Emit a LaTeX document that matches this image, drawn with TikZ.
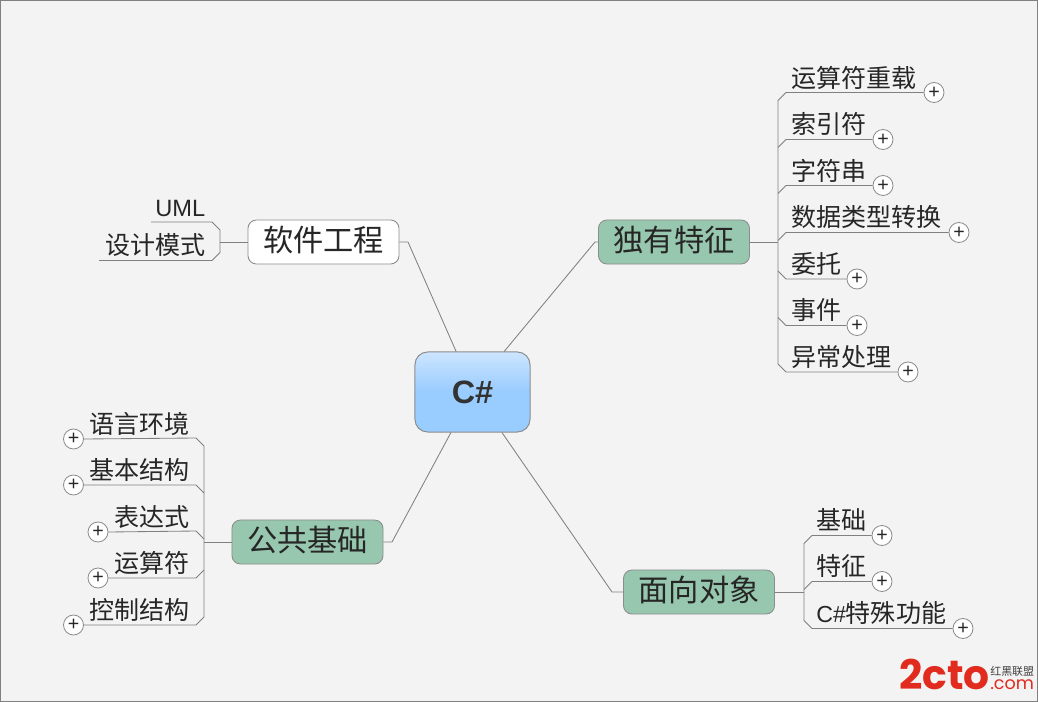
\documentclass[tikz,border=0pt]{standalone}
\usepackage{fontspec}
\usepackage{xcolor}
\setmainfont{Liberation Sans}
\newfontfamily\cjk{Noto Sans CJK SC}
\newfontfamily\logofont{Poppins}
\usetikzlibrary{positioning}
\definecolor{rootgreen}{HTML}{97C7AE}
\definecolor{linegray}{HTML}{808080}
\definecolor{bordergray}{HTML}{8C8C8C}
\definecolor{pagegray}{HTML}{F3F3F3}
\definecolor{logored}{HTML}{E22B1F}
\definecolor{centretop}{HTML}{CCE5FF}
\definecolor{centrelow}{HTML}{99CCFF}

\begin{document}
\begin{tikzpicture}[
    x=0.025cm, y=-0.025cm,
    every node/.style={inner sep=0pt, text=black!85},
    main/.style={draw=bordergray, line width=0.6pt, rounded corners=6pt, fill=rootgreen,
      minimum width=3.775cm, minimum height=1.1cm, text height=17pt, text depth=3.6pt,
      font=\cjk\fontsize{21.5}{24}\selectfont},
    mainw/.style={main, fill=white},
    leafr/.style={anchor=west, font=\cjk\fontsize{17.8}{20}\selectfont},
    leafl/.style={anchor=east, font=\cjk\fontsize{17.8}{20}\selectfont},
    plusnode/.style={circle, draw=bordergray, line width=0.6pt, fill=white, minimum size=0.5cm,
      font=\fontsize{14}{14}\selectfont},
    link/.style={draw=linegray, line width=0.6pt},
  ]
    \useasboundingbox (0,0) rectangle (1038,702);
    \fill[pagegray, draw=linegray, line width=1pt] (0,0) rectangle (1038,702);

    % --- centre ---
    \node[draw=bordergray, line width=0.7pt, rounded corners=9pt, minimum width=2.875cm, minimum height=2cm,
      top color=centretop, bottom color=centrelow, middle color=centrelow,
      font=\bfseries\fontsize{23}{26}\selectfont, text=black!80] (csharp) at (472.5,392) {C\#};

    % --- main branches ---
    \node[mainw] (soft) at (323.5,242) {软件工程};
    \node[main] (unique) at (674,242) {独有特征};
    \node[main] (common) at (307.5,542) {公共基础};
    \node[main] (oop) at (699,592) {面向对象};

    \draw[link] (csharp.112) -- (408,242) -- (soft.east);
    \draw[link] (csharp.52) -- (595,242) -- (unique.west);
    \draw[link] (csharp.242) -- (392,542) -- (common.east);
    \draw[link] (csharp.306) -- (612,592) -- (oop.west);

    % --- software engineering ---
    \node[leafl, font=\fontsize{16.8}{20}\selectfont] (uml) at (205.5,208) {UML};
    \node[leafl] (pattern) at (205.5,245) {设计模式};
    \coordinate (umlend) at (151,222);
    \coordinate (patternend) at (99,260.5);
    \coordinate (softhub) at (220,242);
    \draw[link] (soft.west) -- (softhub);
    \draw[link] (umlend) -- (212,222) -- (220,230) -- (220,252.5) -- (212,260.5) -- (patternend);

    % --- unique features ---
    \node[leafr] (ops) at (791,78) {运算符重载};
    \node[leafr] (index) at (791,124) {索引符};
    \node[leafr] (str) at (791,171) {字符串};
    \node[leafr] (conv) at (791,217) {数据类型转换};
    \node[leafr] (deleg) at (791,264) {委托};
    \node[leafr] (event) at (791,310) {事件};
    \node[leafr] (except) at (791,357) {异常处理};
    \node[plusnode] (opsp) at (934,92.5) {+};
    \node[plusnode] (indexp) at (883,139.5) {+};
    \node[plusnode] (strp) at (883,185.5) {+};
    \node[plusnode] (convp) at (959,232.5) {+};
    \node[plusnode] (delegp) at (857,279) {+};
    \node[plusnode] (eventp) at (857,325.5) {+};
    \node[plusnode] (exceptp) at (908,372) {+};
    \coordinate (uniquehub) at (778,242);
    \draw[link] (unique.east) -- (uniquehub);
    \draw[link] (opsp.west) -- (786,92.5) -- (778,100.5) -- (778,364) -- (786,372) -- (exceptp.west);
    \draw[link] (indexp.west) -- (786,139.5) -- (778,147.5);
    \draw[link] (strp.west) -- (786,185.5) -- (778,193.5);
    \draw[link] (convp.west) -- (786,232.5) -- (778,240.5);
    \draw[link] (delegp.west) -- (786,279) -- (778,271);
    \draw[link] (eventp.west) -- (786,325.5) -- (778,317.5);

    % --- common basics ---
    \node[leafl] (env) at (189.5,424) {语言环境};
    \node[leafl] (basic) at (189.5,470) {基本结构};
    \node[leafl] (expr) at (189.5,517) {表达式};
    \node[leafl] (oper) at (189.5,563) {运算符};
    \node[leafl] (ctrl) at (189.5,610) {控制结构};
    \node[plusnode] (envp) at (73.5,439) {+};
    \node[plusnode] (basicp) at (73.5,485) {+};
    \node[plusnode] (exprp) at (98,532) {+};
    \node[plusnode] (operp) at (98,578) {+};
    \node[plusnode] (ctrlp) at (73.5,625) {+};
    \coordinate (commonhub) at (204,542);
    \draw[link] (common.west) -- (commonhub);
    \draw[link] (envp.east) -- (196,438) -- (204,446) -- (204,617) -- (196,625) -- (ctrlp.east);
    \draw[link] (basicp.east) -- (196,485) -- (204,493);
    \draw[link] (exprp.east) -- (196,531) -- (204,539);
    \draw[link] (operp.east) -- (196,578) -- (204,570);

    % --- object oriented ---
    \node[leafr] (found) at (816,520) {基础};
    \node[leafr] (feat) at (816,566) {特征};
    \node[leafr] (special) at (816,613) {{\rmfamily\fontsize{16.5}{20}\selectfont C\#}特殊功能};
    \node[plusnode] (foundp) at (882,535.5) {+};
    \node[plusnode] (featp) at (882,581.5) {+};
    \node[plusnode] (specialp) at (963,628.5) {+};
    \coordinate (oophub) at (804,592);
    \draw[link] (oop.east) -- (oophub);
    \draw[link] (foundp.west) -- (812,535.5) -- (804,543.5) -- (804,620.5) -- (812,628.5) -- (specialp.west);
    \draw[link] (featp.west) -- (812,581.5) -- (804,589.5);

    % --- logo ---
    \node[anchor=east, text=logored, font=\logofont\bfseries\fontsize{29}{30}\selectfont] (logo) at (990,674) {2cto};
    \node[anchor=west, text=black!75, font=\cjk\fontsize{7.8}{9}\selectfont] (logocn) at (990,671) {红黑联盟};
    \node[anchor=west, text=logored, font=\logofont\fontsize{12.5}{14}\selectfont] (logocom) at (990,685) {.com};
  \end{tikzpicture}
\end{document}
